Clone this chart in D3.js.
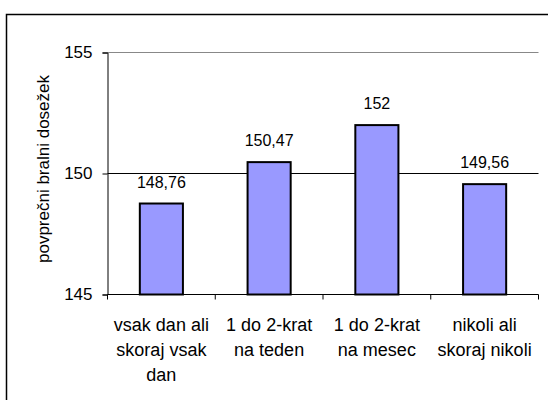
<!DOCTYPE html>
<html>
<head>
<meta charset="utf-8">
<script src="https://cdn.jsdelivr.net/npm/d3@7"></script>
<style>
  body { margin: 0; background: #fff; }
  text { font-family: "Liberation Sans", Arial, sans-serif; fill: #000; }
</style>
</head>
<body>
<script>
// data
var categories = [
  ["vsak dan ali", "skoraj vsak", "dan"],
  ["1 do 2-krat", "na teden"],
  ["1 do 2-krat", "na mesec"],
  ["nikoli ali", "skoraj nikoli"]
];
var values = [148.76, 150.47, 152, 149.56];
var yTicks = [145, 150, 155];
var yTitle = "povprečni bralni dosežek";

var width = 548, height = 400;
var svg = d3.select("body").append("svg")
    .attr("width", width)
    .attr("height", height);

svg.append("rect")
    .attr("width", width).attr("height", height)
    .attr("fill", "#fff");

// outer frame (runs off the right and bottom edge)
svg.append("rect")
    .attr("x", 6.5).attr("y", 14.5)
    .attr("width", 600).attr("height", 500)
    .attr("fill", "none")
    .attr("stroke", "#000")
    .attr("stroke-width", 1.5);

var x = d3.scaleBand()
    .domain(d3.range(categories.length))
    .range([107.5, 538.5])
    .padding(0);

var y = d3.scaleLinear()
    .domain([145, 155])
    .range([294.5, 52.5]);

var fmt = function(v) { return String(v).replace(".", ","); };

// gridlines
svg.append("g").selectAll("line")
    .data(yTicks.filter(d => d > 145))
    .enter().append("line")
    .attr("x1", 107.5).attr("x2", 538.5)
    .attr("y1", d => y(d)).attr("y2", d => y(d))
    .attr("stroke", d => d == 155 ? "#888" : "#000")
    .attr("stroke-width", 1);

// y axis
var yAxis = svg.append("g")
    .attr("transform", "translate(107.5,0)")
    .call(d3.axisLeft(y).tickValues(yTicks).tickSize(5).tickPadding(10));
yAxis.select(".domain").attr("stroke", "#000");
yAxis.selectAll("line").attr("stroke", "#000");
yAxis.selectAll("text")
    .style("font-size", "17px")
    .attr("fill", "#000")
    .attr("font-family", null);

// x axis line + ticks at band edges
var xg = svg.append("g");
xg.append("line")
    .attr("x1", 107.5).attr("x2", 538.5)
    .attr("y1", y(145)).attr("y2", y(145))
    .attr("stroke", "#000");
xg.selectAll("line.tick")
    .data(d3.range(categories.length + 1))
    .enter().append("line")
    .attr("class", "tick")
    .attr("x1", d => d < categories.length ? x(d) : x.range()[1])
    .attr("x2", d => d < categories.length ? x(d) : x.range()[1])
    .attr("y1", y(145)).attr("y2", y(145) + 5)
    .attr("stroke", "#000");

// bars
var barW = x.bandwidth() * 0.4;
svg.append("g").selectAll("rect")
    .data(values)
    .enter().append("rect")
    .attr("x", (d, i) => x(i) + (x.bandwidth() - barW) / 2)
    .attr("y", d => y(d))
    .attr("width", barW)
    .attr("height", d => y(145) - y(d))
    .attr("fill", "#9999ff")
    .attr("stroke", "#000")
    .attr("stroke-width", 2);

// value labels
svg.append("g").selectAll("text")
    .data(values)
    .enter().append("text")
    .attr("x", (d, i) => x(i) + x.bandwidth() / 2)
    .attr("y", d => y(d) - 16)
    .attr("text-anchor", "middle")
    .style("font-size", "16px")
    .text(d => fmt(d));

// category labels
var cat = svg.append("g").selectAll("text")
    .data(categories)
    .enter().append("text")
    .attr("text-anchor", "middle")
    .style("font-size", "18px");
cat.selectAll("tspan")
    .data((d, i) => d.map(t => ({t: t, i: i})))
    .enter().append("tspan")
    .attr("x", d => x(d.i) + x.bandwidth() / 2)
    .attr("y", (d, j) => 331 + j * 25)
    .text(d => d.t);

// y title
svg.append("text")
    .attr("transform", "translate(49,169) rotate(-90)")
    .attr("text-anchor", "middle")
    .style("font-size", "17px")
    .text(yTitle);
</script>
</body>
</html>
